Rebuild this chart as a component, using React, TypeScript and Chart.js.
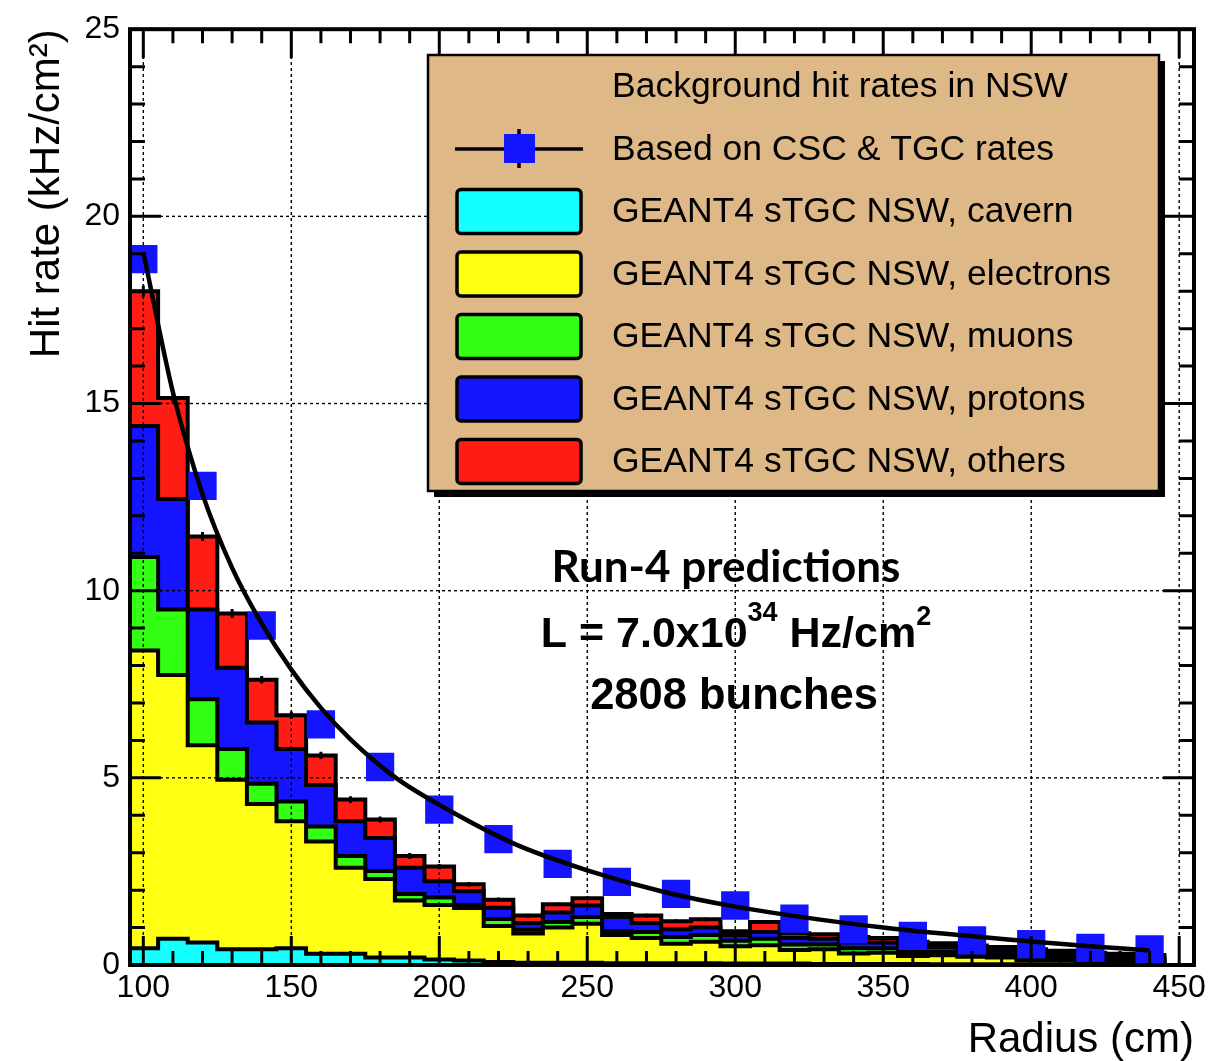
import React, { useEffect, useRef } from 'react';
import { Chart, registerables } from 'chart.js';

Chart.register(...registerables);

// ---------------- data ----------------
const binCenters = [100, 110, 120, 130, 140, 150, 160, 170, 180, 190, 200, 210, 220, 230, 240, 250, 260, 270, 280, 290, 300, 310, 320, 330, 340, 350, 360, 370, 380, 390, 400, 410, 420, 430, 440, 450];
const binWidth = 10;

const cavern = [0.45, 0.7, 0.6, 0.42, 0.42, 0.45, 0.3, 0.3, 0.2, 0.2, 0.15, 0.12, 0.08, 0.06, 0.06, 0.06, 0.05, 0.05, 0.05, 0.05, 0.04, 0.04, 0.04, 0.03, 0.03, 0.03, 0.03, 0.02, 0.02, 0.02, 0.02, 0.02, 0.01, 0.01, 0.01, 0];
const electrons = [7.95, 7.05, 5.27, 4.53, 3.88, 3.39, 3.0, 2.3, 2.1, 1.52, 1.45, 1.4, 0.96, 0.78, 0.94, 1.04, 0.75, 0.67, 0.52, 0.57, 0.46, 0.49, 0.36, 0.39, 0.28, 0.3, 0.21, 0.24, 0.2, 0.18, 0.11, 0.11, 0.09, 0.09, 0.07, 0];
const muons = [2.5, 1.75, 1.23, 0.82, 0.54, 0.53, 0.4, 0.31, 0.21, 0.18, 0.2, 0.08, 0.19, 0.1, 0.15, 0.18, 0.1, 0.16, 0.18, 0.18, 0.15, 0.17, 0.15, 0.13, 0.14, 0.12, 0.11, 0.09, 0.08, 0.08, 0.09, 0.07, 0.07, 0.06, 0.06, 0];
const protons = [3.5, 2.95, 2.4, 2.17, 1.64, 1.4, 1.11, 0.93, 0.88, 0.7, 0.44, 0.37, 0.3, 0.18, 0.25, 0.31, 0.38, 0.24, 0.2, 0.2, 0.15, 0.18, 0.17, 0.15, 0.15, 0.15, 0.15, 0.13, 0.12, 0.1, 0.11, 0.1, 0.09, 0.08, 0.07, 0];
const others = [3.6, 2.7, 1.95, 1.45, 1.14, 0.9, 0.79, 0.58, 0.5, 0.31, 0.39, 0.19, 0.21, 0.2, 0.22, 0.19, 0.08, 0.2, 0.22, 0.22, 0.1, 0.27, 0.13, 0.12, 0.15, 0.12, 0.12, 0.1, 0.1, 0.1, 0.09, 0.08, 0.07, 0.06, 0.06, 0];
const totalErr = [0.15, 0.13, 0.12, 0.12, 0.1, 0.1, 0.1, 0.09, 0.08, 0.08, 0.07, 0.06, 0.06, 0.05, 0.05, 0.05, 0.05, 0.05, 0.05, 0.05, 0.04, 0.04, 0.04, 0.04, 0.04, 0.04, 0.04, 0.03, 0.03, 0.03, 0.03, 0.03, 0.03, 0.03, 0.03, 0];

const dataRadius = [100, 120, 140, 160, 180, 200, 220, 240, 260, 280, 300, 320, 340, 360, 380, 400, 420, 440];
const dataRate = [18.86, 12.8, 9.07, 6.43, 5.29, 4.15, 3.36, 2.7, 2.22, 1.9, 1.59, 1.24, 0.95, 0.78, 0.66, 0.56, 0.46, 0.42];

const fitRadius = [100, 110, 120, 130, 140, 150, 160, 170, 185, 200, 225, 250, 275, 300, 350, 400, 420, 440];
const fitRate = [19.05, 15.3, 12.58, 10.61, 9.12, 7.89, 6.87, 6.03, 5.02, 4.28, 3.25, 2.53, 1.97, 1.56, 1.0, 0.63, 0.5, 0.39];

const xTickValues = [100, 150, 200, 250, 300, 350, 400, 450];
const yTickValues = [0, 5, 10, 15, 20, 25];
const xMinorStep = 10;
const yMinorStep = 1;

const legendTitle = 'Background hit rates in NSW';
const dataLabel = 'Based on CSC & TGC rates';
const layerLabels = ['GEANT4 sTGC NSW, cavern', 'GEANT4 sTGC NSW, electrons', 'GEANT4 sTGC NSW, muons', 'GEANT4 sTGC NSW, protons', 'GEANT4 sTGC NSW, others'];
const layerColors = ['#14FFFF', '#FFFF14', '#33FF14', '#1414FF', '#FF1C14'];
const pointColor = '#1414FF';
const noteLine1 = 'Run-4 predictions';
const noteLine2 = ['L = 7.0x10', '34', ' Hz/cm', '2'];
const noteLine3 = '2808 bunches';

const FONT = "'Liberation Sans', Arial, Helvetica, sans-serif";

// ---------------- build stacked datasets ----------------
const layers = [cavern, electrons, muons, protons, others];
const cumulative: number[][] = [];
{
  let run = binCenters.map(() => 0);
  layers.forEach((arr) => {
    run = run.map((v, i) => v + arr[i]);
    cumulative.push(run);
  });
}
const stepPoints = (vals: number[]) => {
  const pts = binCenters.map((c, i) => ({ x: c - binWidth / 2, y: vals[i] }));
  const last = binCenters.length - 1;
  pts.push({ x: binCenters[last] + binWidth / 2, y: vals[last] });
  return pts;
};

const IDX_CAVERN = 2;
const IDX_TOTAL = 6;

const rootStyle = {
  id: 'rootStyle',
  afterDatasetDraw(chart: any, args: any) {
    const { ctx, chartArea: a, scales } = chart;
    const xs = scales.x;
    const ys = scales.y;
    if (args.index === IDX_TOTAL) {
      ctx.save();
      ctx.beginPath();
      ctx.rect(a.left, a.top, a.right - a.left, a.bottom - a.top);
      ctx.clip();
      ctx.strokeStyle = '#000';
      ctx.lineWidth = 3;
      const tot = cumulative[cumulative.length - 1];
      binCenters.forEach((c, i) => {
        if (!totalErr[i]) return;
        const px = xs.getPixelForValue(c);
        ctx.beginPath();
        ctx.moveTo(px, ys.getPixelForValue(tot[i] - totalErr[i]));
        ctx.lineTo(px, ys.getPixelForValue(tot[i] + totalErr[i]));
        ctx.stroke();
      });
      ctx.restore();
    }
    if (args.index === IDX_CAVERN) {
      ctx.save();
      ctx.strokeStyle = '#000';
      ctx.lineWidth = 1.4;
      ctx.setLineDash([3, 3]);
      xTickValues.forEach((v) => {
        const px = xs.getPixelForValue(v);
        if (px <= a.left + 2 || px >= a.right - 2) return;
        ctx.beginPath();
        ctx.moveTo(px, a.bottom);
        ctx.lineTo(px, a.top);
        ctx.stroke();
      });
      yTickValues.forEach((v) => {
        const py = ys.getPixelForValue(v);
        if (py <= a.top + 2 || py >= a.bottom - 2) return;
        ctx.beginPath();
        ctx.moveTo(a.left, py);
        ctx.lineTo(a.right, py);
        ctx.stroke();
      });
      ctx.restore();
    }
  },
  afterDraw(chart: any) {
    const { ctx, chartArea: a, scales } = chart;
    const xs = scales.x;
    const ys = scales.y;
    ctx.save();
    ctx.strokeStyle = '#000';
    ctx.lineWidth = 3;
    for (let v = xTickValues[0]; v <= xTickValues[xTickValues.length - 1] + 0.001; v += xMinorStep) {
      const major = xTickValues.includes(v);
      const len = major ? 29 : 14;
      const px = xs.getPixelForValue(v);
      ctx.beginPath();
      ctx.moveTo(px, a.bottom);
      ctx.lineTo(px, a.bottom - len);
      ctx.moveTo(px, a.top);
      ctx.lineTo(px, a.top + len);
      ctx.stroke();
    }
    for (let v = yTickValues[0]; v <= yTickValues[yTickValues.length - 1] + 0.001; v += yMinorStep) {
      const major = yTickValues.includes(v);
      const len = major ? 31 : 15;
      const py = ys.getPixelForValue(v);
      ctx.beginPath();
      ctx.moveTo(a.left, py);
      ctx.lineTo(a.left + len, py);
      ctx.moveTo(a.right, py);
      ctx.lineTo(a.right - len, py);
      ctx.stroke();
    }
    ctx.lineWidth = 4;
    ctx.strokeRect(a.left, a.top, a.right - a.left, a.bottom - a.top);
    ctx.restore();

    // ---------- legend ----------
    const bx = 428, by = 55, bw = 731, bh = 436;
    ctx.save();
    ctx.fillStyle = '#000';
    ctx.fillRect(bx + 6, by + 6, bw, bh);
    ctx.fillStyle = '#DEB887';
    ctx.fillRect(bx, by, bw, bh);
    ctx.lineWidth = 2.5;
    ctx.strokeStyle = '#000';
    ctx.strokeRect(bx, by, bw, bh);
    ctx.font = `35.5px ${FONT}`;
    ctx.textBaseline = 'middle';
    ctx.textAlign = 'left';
    ctx.fillStyle = '#000';
    ctx.fillText(legendTitle, 612, 87);
    const rows = [1, 2, 3, 4, 5, 6];
    rows.forEach((di, r) => {
      const ds = chart.data.datasets[di];
      const cy = 149 + r * 62.5;
      if (di === 1) {
        ctx.strokeStyle = '#000';
        ctx.lineWidth = 3.5;
        ctx.beginPath();
        ctx.moveTo(455, cy);
        ctx.lineTo(583, cy);
        ctx.moveTo(519, cy - 20);
        ctx.lineTo(519, cy + 19);
        ctx.stroke();
        ctx.fillStyle = ds.backgroundColor;
        ctx.fillRect(504, cy - 15, 31, 29);
      } else {
        ctx.fillStyle = ds.backgroundColor;
        ctx.strokeStyle = '#000';
        ctx.lineWidth = 3.5;
        ctx.beginPath();
        (ctx as any).roundRect(457, cy - 22, 124, 44, 4);
        ctx.fill();
        ctx.stroke();
      }
      ctx.fillStyle = '#000';
      ctx.fillText(ds.label, 612, cy + 1);
    });
    ctx.restore();

    // ---------- annotation ----------
    ctx.save();
    ctx.fillStyle = '#000';
    ctx.textBaseline = 'alphabetic';
    ctx.textAlign = 'left';
    ctx.font = `bold 40px Lato, ${FONT}`;
    const w1 = ctx.measureText(noteLine1).width;
    const s1 = (40 * 349) / w1;
    ctx.font = `bold ${s1}px Lato, ${FONT}`;
    ctx.textAlign = 'center';
    ctx.fillText(noteLine1, 726, 582);

    const main = `bold 43px ${FONT}`;
    const sup = `bold 27px ${FONT}`;
    ctx.textAlign = 'left';
    const parts = [
      { t: noteLine2[0], f: main, dy: 0 },
      { t: noteLine2[1], f: sup, dy: -26 },
      { t: noteLine2[2], f: main, dy: 0 },
      { t: noteLine2[3], f: sup, dy: -22 },
    ];
    let total = 0;
    parts.forEach((p) => {
      ctx.font = p.f;
      total += ctx.measureText(p.t).width;
    });
    let cx = 736 - total / 2;
    parts.forEach((p) => {
      ctx.font = p.f;
      ctx.fillText(p.t, cx, 647 + p.dy);
      cx += ctx.measureText(p.t).width;
    });
    ctx.font = `bold 43.5px ${FONT}`;
    ctx.textAlign = 'center';
    ctx.fillText(noteLine3, 734, 709);
    ctx.restore();
  },
};

export default function App() {
  const ref = useRef<HTMLCanvasElement>(null);
  useEffect(() => {
    const canvas = ref.current;
    if (!canvas) return;
    const histDatasets = layers.map((_, k) => ({
      type: 'line',
      label: layerLabels[k],
      data: stepPoints(cumulative[k]),
      stepped: true,
      fill: 'origin',
      backgroundColor: layerColors[k],
      borderColor: '#000',
      borderWidth: 4,
      borderJoinStyle: 'miter',
      pointRadius: 0,
      tension: 0,
    }));
    const chart = new Chart(canvas, {
      type: 'line',
      data: {
        datasets: [
          {
            type: 'line',
            label: 'fit',
            data: fitRadius.map((x, i) => ({ x, y: fitRate[i] })),
            borderColor: '#000',
            borderWidth: 4.5,
            pointRadius: 0,
            fill: false,
            cubicInterpolationMode: 'monotone',
          },
          {
            type: 'line',
            label: dataLabel,
            data: dataRadius.map((x, i) => ({ x, y: dataRate[i] })),
            showLine: false,
            pointStyle: 'rect',
            pointRadius: 20,
            pointBorderWidth: 0,
            pointBackgroundColor: pointColor,
            backgroundColor: pointColor,
            borderColor: 'rgba(0,0,0,0)',
            fill: false,
          },
          ...histDatasets,
        ] as any,
      },
      options: {
        animation: false,
        responsive: false,
        events: [],
        layout: { padding: { left: 0, right: 28, top: 20, bottom: 0 } },
        plugins: {
          legend: { display: false },
          tooltip: { enabled: false },
        },
        scales: {
          x: {
            type: 'linear',
            bounds: 'data',
            min: 95.5,
            max: 455,
            afterBuildTicks: (s: any) => {
              s.ticks = xTickValues.map((v) => ({ value: v }));
            },
            afterFit: (s: any) => {
              s.height = 96;
            },
            grid: { display: false, drawTicks: false },
            border: { display: false },
            ticks: {
              autoSkip: false,
              maxRotation: 0,
              padding: 4,
              color: '#000',
              font: { family: FONT, size: 32 },
              callback: (v: any) => String(v),
            },
            title: {
              display: true,
              text: 'Radius (cm)',
              align: 'end',
              color: '#000',
              font: { family: FONT, size: 42, lineHeight: 1 },
              padding: { top: 0, bottom: 0 },
            },
          },
          y: {
            type: 'linear',
            bounds: 'data',
            min: 0,
            max: 25,
            afterBuildTicks: (s: any) => {
              s.ticks = yTickValues.map((v) => ({ value: v }));
            },
            afterFit: (s: any) => {
              s.width = 130;
            },
            grid: { display: false, drawTicks: false },
            border: { display: false },
            ticks: {
              autoSkip: false,
              padding: 10,
              color: '#000',
              font: { family: FONT, size: 32 },
              callback: (v: any) => String(v),
            },
            title: {
              display: true,
              text: 'Hit rate (kHz/cm²)',
              align: 'end',
              color: '#000',
              font: { family: FONT, size: 42, lineHeight: 1 },
              padding: { top: 26, bottom: 0 },
            },
          },
        },
      } as any,
      plugins: [rootStyle as any],
    });
    return () => chart.destroy();
  }, []);
  return (
    <div style={{ position: 'absolute', left: 0, top: 0, width: 1222, height: 1061, background: '#fff' }}>
      <canvas ref={ref} width={1222} height={1061} style={{ width: 1222, height: 1061, display: 'block' }} />
    </div>
  );
}
